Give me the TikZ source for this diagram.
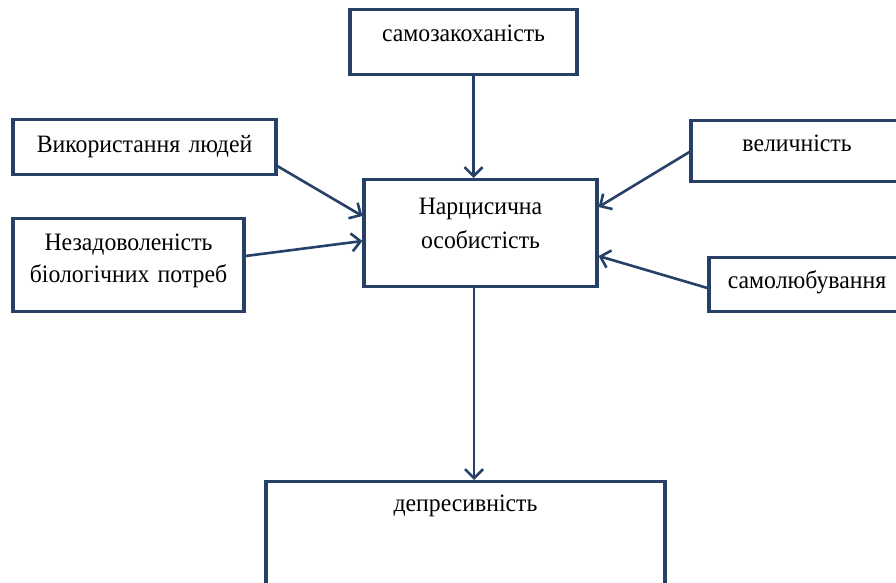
\documentclass[tikz,border=0pt]{standalone}
\usepackage{fontspec}
\setmainfont[FakeStretch=0.95]{Liberation Serif}
\usetikzlibrary{arrows.meta}
\definecolor{boxline}{RGB}{38,64,104}
\tikzset{
  tbox/.style={draw=boxline, line width=3.2pt, anchor=north,
    inner xsep=0pt, inner ysep=0pt, align=center,
    font=\fontsize{25}{32}\selectfont},
  link/.style={draw=boxline, line width=2.6pt,
    -{Straight Barb[length=9pt,width=18pt]}}
}
\begin{document}
\begin{tikzpicture}[x=1pt,y=-1pt]
    \useasboundingbox (0,0) rectangle (896,583);
    \clip (0,0) rectangle (896,583);

    % boxes
    \node[tbox, text width=227pt, text height=32pt, text depth=33pt] (samo) at (463.5,8) {самозакоханість};
    \node[tbox, text width=263pt, text height=33pt, text depth=22pt] (vykor) at (144.5,118) {Використання людей};
    \node[tbox, text width=231pt, text height=32pt, text depth=61pt] (nezad) at (128.5,217) {Незадоволеність\\біологічних потреб};
    \node[tbox, text width=233pt, text height=35pt, text depth=72pt, font=\fontsize{25}{34}\selectfont] (narc) at (480.5,178) {Нарцисична\\особистість};
    \node[tbox, text width=212pt, text height=31pt, text depth=30pt] (velych) at (797,119) {величність};
    \node[tbox, text width=196pt, text height=31pt, text depth=23pt] (samol) at (807,256) {самолюбування};
    \node[tbox, text width=399pt, text height=30pt, text depth=90pt] (depres) at (465.5,480) {депресивність};

    % arrows
    \draw[link] ([xshift=10pt]samo.south) -- ([xshift=10pt]samo.south |- narc.north);
    \draw[link] ([yshift=10pt]vykor.south east) -- ([yshift=-38pt]narc.north west);
    \draw[link] ([yshift=-39pt]nezad.north east) -- ([yshift=-63pt]narc.north west);
    \draw[link] ([yshift=-33pt]velych.north west) -- ([yshift=-29pt]narc.north east);
    \draw[link] ([yshift=-32pt]samol.north west) -- ([yshift=-78pt]narc.north east);
    \draw[link] ([xshift=-6.5pt]narc.south) -- ([xshift=-6.5pt]narc.south |- depres.north);
\end{tikzpicture}
\end{document}
